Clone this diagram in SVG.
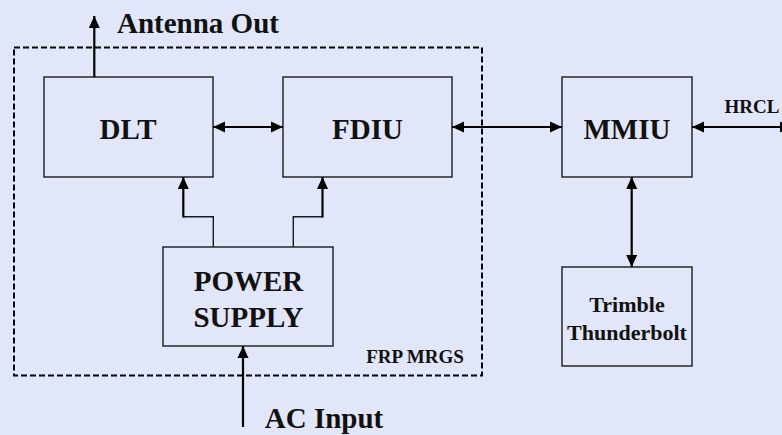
<svg xmlns="http://www.w3.org/2000/svg" width="782" height="435" viewBox="0 0 782 435">
<defs>
<style>
.box{fill:none;stroke:#1a1a1a;stroke-width:1.4}
.t{font-family:"Liberation Serif","Times New Roman",serif;font-weight:bold;fill:#111;text-anchor:middle}
.big{font-size:29px}
.small{font-size:22px}
.lbl{font-size:19px}
.ln{fill:none;stroke:#000;stroke-width:2.2}
.thin{fill:none;stroke:#1a1a1a;stroke-width:1.4}
</style>
<marker id="ah" viewBox="0 0 12 12" refX="12" refY="6" markerWidth="12" markerHeight="12" markerUnits="userSpaceOnUse" orient="auto-start-reverse">
<path d="M0,0.5 L12,6 L0,11.5 Z" fill="#000"/>
</marker>
</defs>
<rect width="782" height="435" fill="#E1E6F8"/>
<g id="frp-mrgs">
<rect x="14" y="47.5" width="468" height="328" fill="none" stroke="#000" stroke-width="2" stroke-dasharray="6,3"/>
<text class="t lbl" x="415" y="363">FRP MRGS</text>
</g>
<g id="dlt">
<rect class="box" x="44" y="77" width="169" height="100"/>
<text class="t big" x="128" y="139">DLT</text>
</g>
<g id="fdiu">
<rect class="box" x="283" y="77" width="169" height="100"/>
<text class="t big" x="367.5" y="139">FDIU</text>
</g>
<g id="mmiu">
<rect class="box" x="562" y="77" width="130" height="100"/>
<text class="t big" x="627" y="139">MMIU</text>
</g>
<g id="power-supply">
<rect class="box" x="163" y="247" width="170" height="99"/>
<text class="t big" x="248.5" y="291">POWER</text>
<text class="t big" x="248.5" y="327">SUPPLY</text>
</g>
<g id="trimble">
<rect class="box" x="562" y="267" width="130" height="99"/>
<text class="t small" x="627" y="312">Trimble</text>
<text class="t small" x="627" y="340">Thunderbolt</text>
</g>
<g id="connectors">
<line class="ln" x1="94.3" y1="77" x2="94.3" y2="16" marker-end="url(#ah)"/>
<line class="ln" x1="213" y1="127" x2="283" y2="127" marker-start="url(#ah)" marker-end="url(#ah)"/>
<line class="ln" x1="452" y1="127" x2="562" y2="127" marker-start="url(#ah)" marker-end="url(#ah)"/>
<line class="ln" x1="692" y1="127" x2="792" y2="127" marker-start="url(#ah)" marker-end="url(#ah)"/>
<line class="ln" x1="631.7" y1="177" x2="631.7" y2="267" marker-start="url(#ah)" marker-end="url(#ah)"/>
<polyline class="thin" points="213.3,247 213.3,216.7 183.3,216.7"/>
<line class="ln" x1="183.3" y1="217.5" x2="183.3" y2="177" marker-end="url(#ah)"/>
<polyline class="thin" points="293.3,247 293.3,216.7 322.5,216.7"/>
<line class="ln" x1="322.5" y1="217.5" x2="322.5" y2="177" marker-end="url(#ah)"/>
<line class="ln" x1="243" y1="427" x2="243" y2="346" marker-end="url(#ah)"/>
</g>
<g id="labels">
<text class="t big" x="198" y="33">Antenna Out</text>
<text class="t lbl" x="752" y="113">HRCL</text>
<text class="t big" x="324" y="428">AC Input</text>
</g>
</svg>
